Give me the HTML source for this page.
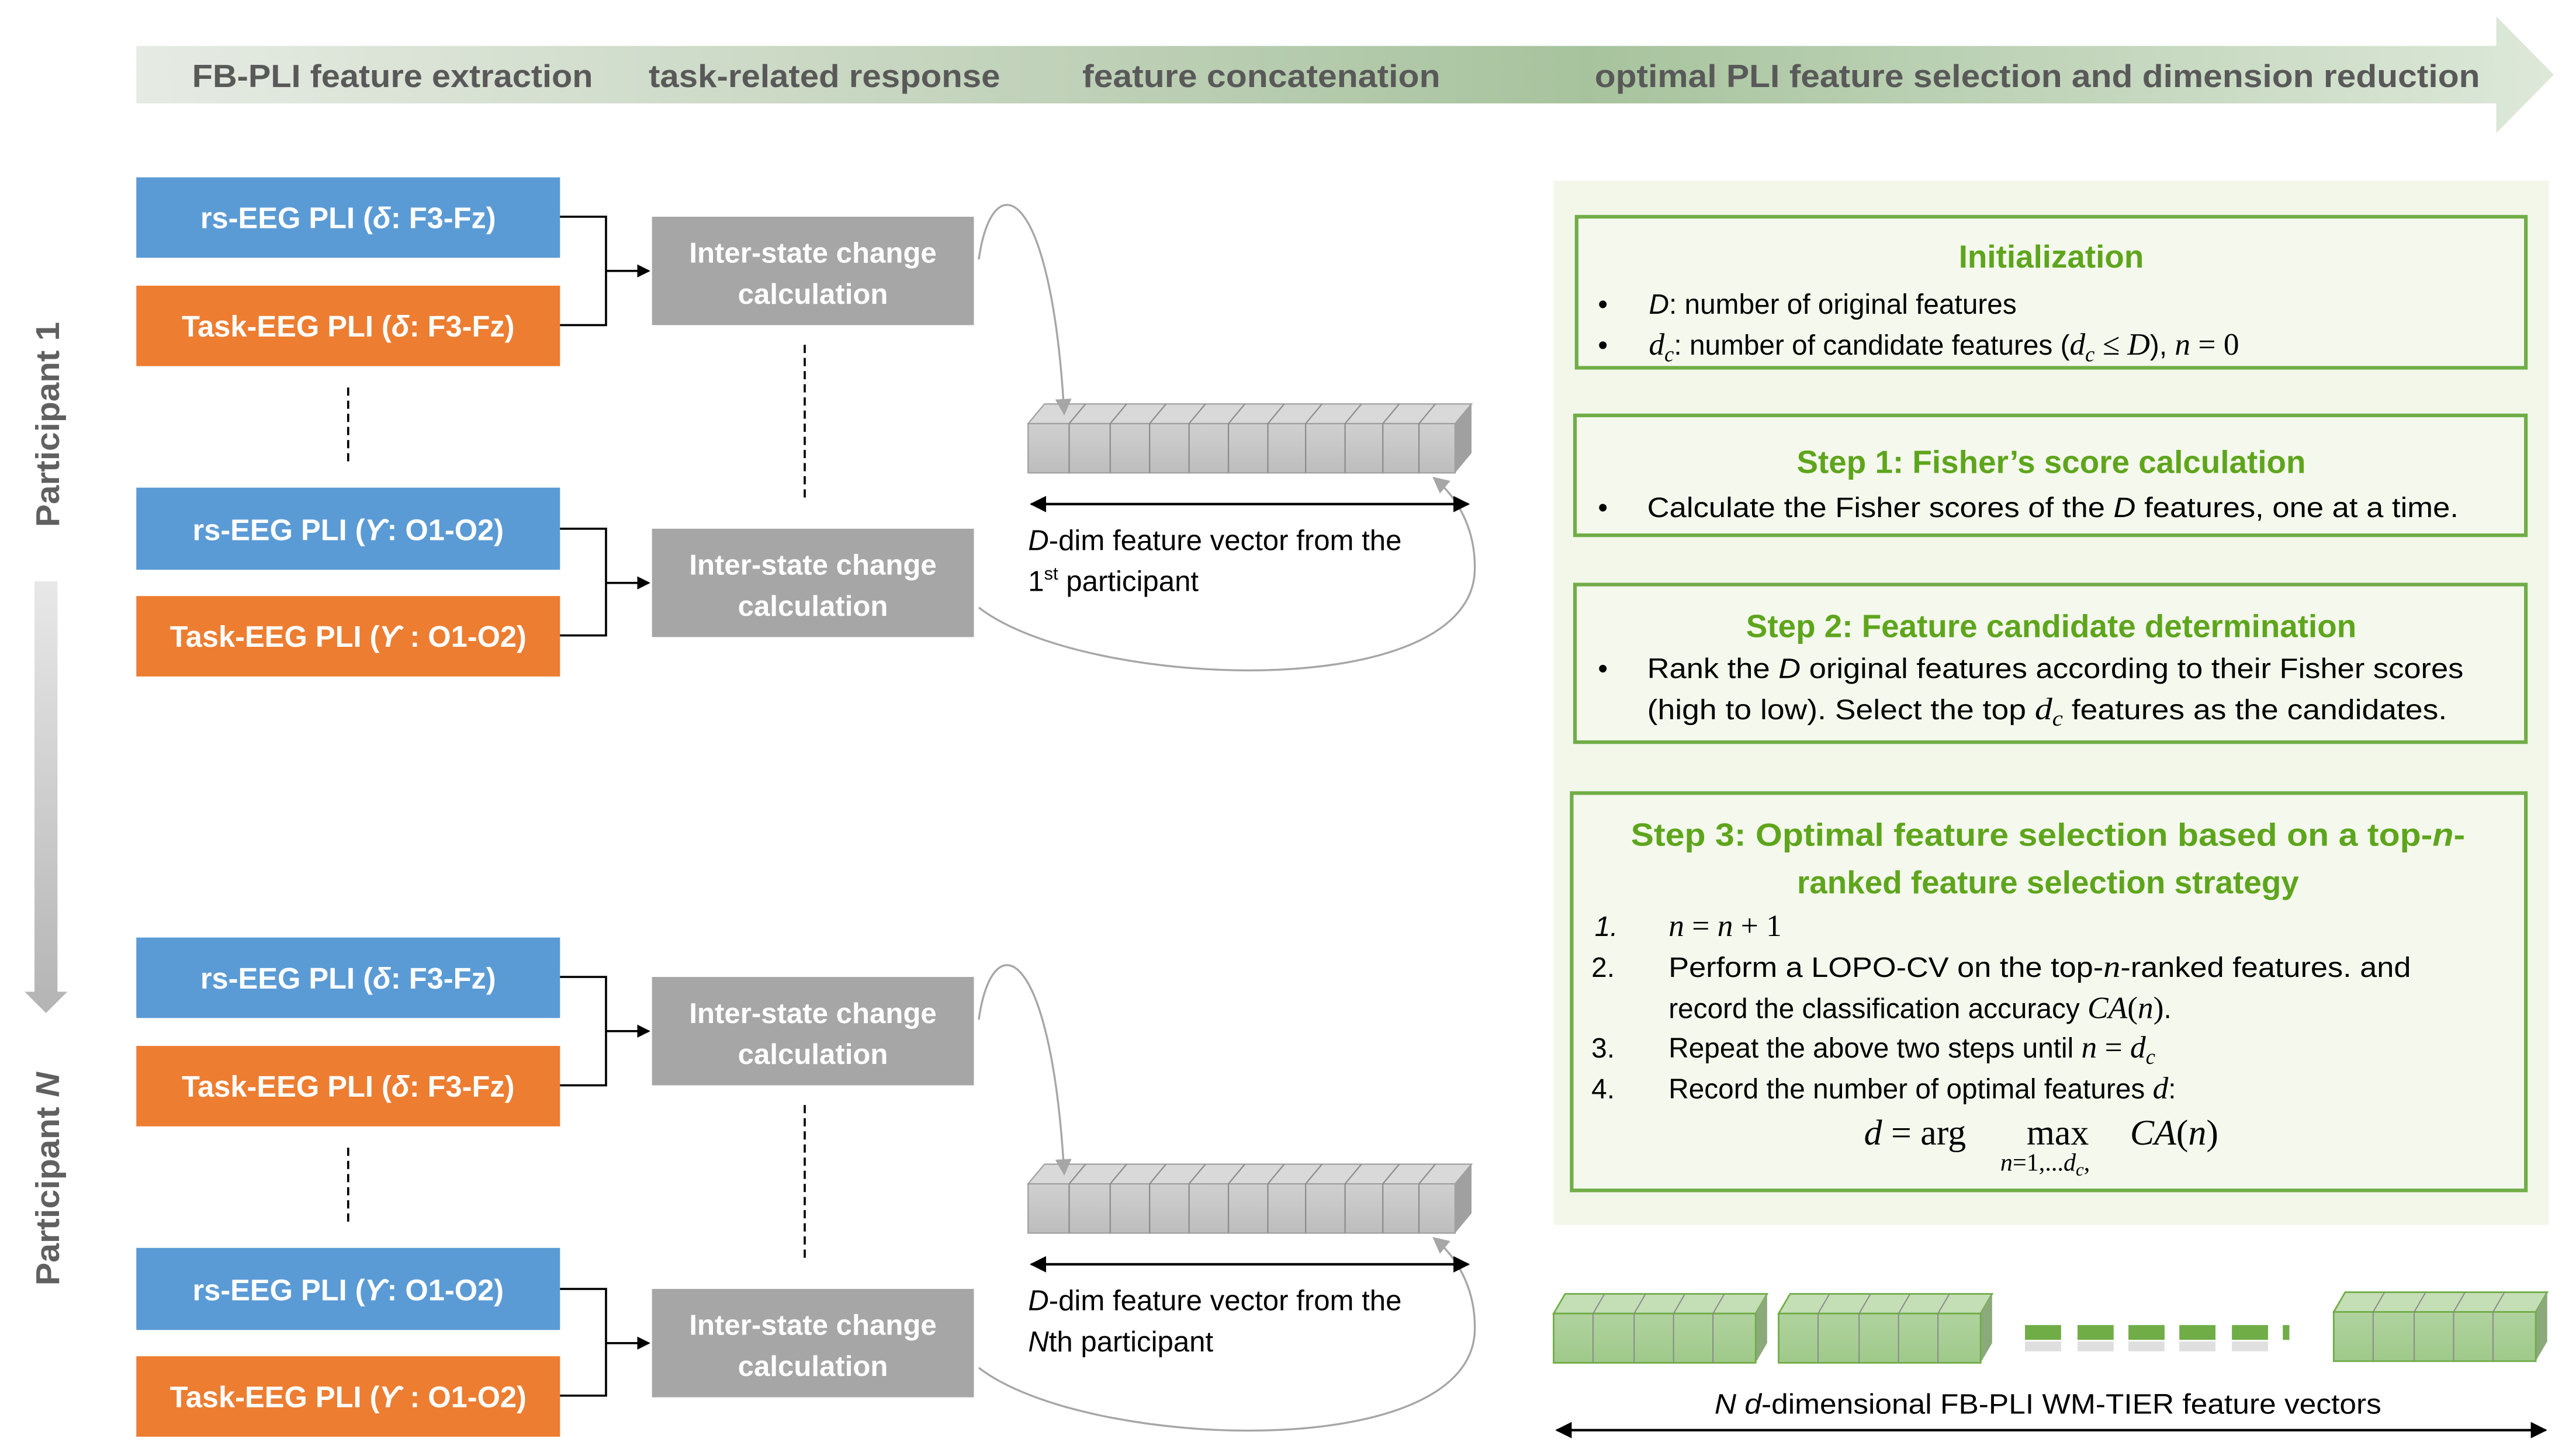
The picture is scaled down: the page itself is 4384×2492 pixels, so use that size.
<!DOCTYPE html>
<html><head><meta charset="utf-8"><style>
html,body{margin:0;padding:0;background:#fff;}
svg{display:block;}
.ser{font-family:"Liberation Serif",serif;font-style:italic;}
.rom{font-family:"Liberation Serif",serif;}
</style></head><body>
<svg width="4384" height="2492" viewBox="0 0 1560 886.75" preserveAspectRatio="none" xmlns="http://www.w3.org/2000/svg" font-family="Liberation Sans, sans-serif">
<defs>
<linearGradient id="hdr" x1="0" x2="1" y1="0" y2="0">
<stop offset="0" stop-color="#e6ebe3"/>
<stop offset="0.45" stop-color="#b9cdb1"/>
<stop offset="0.6" stop-color="#a7c39d"/>
<stop offset="1" stop-color="#dde8d9"/>
</linearGradient>
<linearGradient id="varr" x1="0" x2="0" y1="0" y2="1">
<stop offset="0" stop-color="#e8e8e8"/><stop offset="1" stop-color="#b4b4b4"/>
</linearGradient>
<linearGradient id="cell" x1="0" x2="0" y1="0" y2="1">
<stop offset="0" stop-color="#d0d0d0"/><stop offset="1" stop-color="#bdbdbd"/>
</linearGradient>
<linearGradient id="gcell" x1="0" x2="0" y1="0" y2="1">
<stop offset="0" stop-color="#b0d39e"/><stop offset="1" stop-color="#9fc98a"/>
</linearGradient>
<marker id="ab" markerWidth="8" markerHeight="8" refX="7" refY="4" orient="auto" markerUnits="userSpaceOnUse"><path d="M0,0 L8,4 L0,8 z" fill="#000"/></marker>
<marker id="ag" markerWidth="10" markerHeight="10" refX="9" refY="5" orient="auto" markerUnits="userSpaceOnUse"><path d="M0,0 L10,5 L0,10 z" fill="#a6a6a6"/></marker>
<marker id="dA" markerWidth="10" markerHeight="10" refX="9" refY="5" orient="auto-start-reverse" markerUnits="userSpaceOnUse"><path d="M0,0 L10,5 L0,10 z" fill="#000"/></marker>
</defs>

<path d="M83,28 H1520 V10 L1555,45.5 L1520,81 V63 H83 z" fill="url(#hdr)"/>
<g font-weight="bold" font-size="19.5" fill="#595959">
<text x="117" y="53" textLength="244" lengthAdjust="spacingAndGlyphs">FB-PLI feature extraction</text>
<text x="395" y="53" textLength="214" lengthAdjust="spacingAndGlyphs">task-related response</text>
<text x="659" y="53" textLength="218" lengthAdjust="spacingAndGlyphs">feature concatenation</text>
<text x="971" y="53" textLength="539" lengthAdjust="spacingAndGlyphs">optimal PLI feature selection and dimension reduction</text>
</g>

<text transform="translate(36,321) rotate(-90)" font-size="20" font-weight="bold" fill="#606060" textLength="125" lengthAdjust="spacingAndGlyphs">Participant 1</text>
<text transform="translate(36,783) rotate(-90)" font-size="20" font-weight="bold" fill="#606060" textLength="130" lengthAdjust="spacingAndGlyphs">Participant <tspan font-style="italic">N</tspan></text>
<path d="M21,354 H35 V604 H41 L28,617 L15,604 H21 z" fill="url(#varr)"/>

<g id="blocks">
<g font-size="18" font-weight="bold" fill="#fff" text-anchor="middle">
<rect x="83" y="108" width="258" height="49" fill="#5b9bd5"/>
<text x="212" y="139">rs-EEG PLI (<tspan font-style="italic">δ</tspan>: F3-Fz)</text>
<rect x="83" y="174" width="258" height="49" fill="#ed7d31"/>
<text x="212" y="205">Task-EEG PLI (<tspan font-style="italic">δ</tspan>: F3-Fz)</text>
<rect x="83" y="297" width="258" height="50" fill="#5b9bd5"/>
<text x="212" y="329">rs-EEG PLI (<tspan font-style="italic">ϒ</tspan>: O1-O2)</text>
<rect x="83" y="363" width="258" height="49" fill="#ed7d31"/>
<text x="212" y="394">Task-EEG PLI (<tspan font-style="italic">ϒ</tspan> : O1-O2)</text>
</g>
<g fill="none" stroke="#000" stroke-width="1.3">
<path d="M341,132 H369 V198 H341"/><path d="M369,165 H395" marker-end="url(#ab)"/>
<path d="M341,322 H369 V387 H341"/><path d="M369,355 H395" marker-end="url(#ab)"/>
<path d="M212,236 V284" stroke-dasharray="5,3"/>
<path d="M490,210 V306" stroke-dasharray="5,3"/>
</g>
<g font-size="17.5" font-weight="bold" fill="#fff" text-anchor="middle">
<rect x="397" y="132" width="196" height="66" fill="#a6a6a6"/>
<text x="495" y="160">Inter-state change</text><text x="495" y="185">calculation</text>
<rect x="397" y="322" width="196" height="66" fill="#a6a6a6"/>
<text x="495" y="350">Inter-state change</text><text x="495" y="375">calculation</text>
</g>
<path d="M626,258 L636,246 H896 L886,258 z" fill="#d9d9d9" stroke="#a0a0a0" stroke-width="0.8"/>
<path d="M886,258 L896,246 V276 L886,288 z" fill="#a0a0a0"/>
<rect x="626" y="258" width="260" height="30" fill="url(#cell)" stroke="#a0a0a0" stroke-width="0.8"/>
<g stroke="#8c8c8c" stroke-width="0.8">
<path d="M651,258 V288 M651,258 L661,246"/><path d="M676,258 V288 M676,258 L686,246"/>
<path d="M700,258 V288 M700,258 L710,246"/><path d="M724,258 V288 M724,258 L734,246"/>
<path d="M748,258 V288 M748,258 L758,246"/><path d="M772,258 V288 M772,258 L782,246"/>
<path d="M795,258 V288 M795,258 L805,246"/><path d="M819,258 V288 M819,258 L829,246"/>
<path d="M842,258 V288 M842,258 L852,246"/><path d="M864,258 V288 M864,258 L874,246"/>
</g>
<path d="M596,158 C604,100 640,110 648,252" fill="none" stroke="#a6a6a6" stroke-width="1.2" marker-end="url(#ag)"/>
<path d="M596,370 C660,420 900,430 898,345 C898,325 890,305 873,291" fill="none" stroke="#a6a6a6" stroke-width="1.2" marker-end="url(#ag)"/>
<path d="M628,307 H894" stroke="#000" stroke-width="1.5" marker-start="url(#dA)" marker-end="url(#dA)"/>
</g>
<g font-size="17.5" fill="#000">
<text x="626" y="335"><tspan font-style="italic">D</tspan>-dim feature vector from the</text>
<text x="626" y="360">1<tspan font-size="11" dy="-7">st</tspan><tspan dy="7"> participant</tspan></text>
</g>

<use href="#blocks" transform="translate(0,463)"/>
<g font-size="17.5" fill="#000">
<text x="626" y="798"><tspan font-style="italic">D</tspan>-dim feature vector from the</text>
<text x="626" y="823"><tspan font-style="italic">N</tspan>th participant</text>
</g>

<rect x="946" y="110" width="606" height="636" fill="#f2f7ea"/>
<g fill="#f4f8ed" stroke="#70ad47" stroke-width="2.2">
<rect x="960" y="132" width="578" height="92"/>
<rect x="959" y="253" width="579" height="73"/>
<rect x="959" y="356" width="579" height="96"/>
<rect x="957" y="483" width="581" height="242"/>
</g>
<g font-size="19.5" font-weight="bold" fill="#5ea51c" text-anchor="middle">
<text x="1249" y="163">Initialization</text>
<text x="1249" y="288">Step 1: Fisher’s score calculation</text>
<text x="1249" y="388">Step 2: Feature candidate determination</text>
<text x="1247" y="515" textLength="508" lengthAdjust="spacingAndGlyphs">Step 3: Optimal feature selection based on a top-<tspan font-style="italic">n</tspan>-</text>
<text x="1247" y="544">ranked feature selection strategy</text>
</g>
<g font-size="17" fill="#000">
<text x="973" y="191">•</text>
<text x="1004" y="191"><tspan font-style="italic">D</tspan>: number of original features</text>
<text x="973" y="216">•</text>
<text x="1004" y="216"><tspan class="ser" font-size="19">d<tspan font-size="13" dy="4">c</tspan></tspan><tspan dy="-4">: number of candidate features (</tspan><tspan class="ser" font-size="19">d<tspan font-size="13" dy="4">c</tspan></tspan><tspan dy="-4" class="ser" font-size="19"> ≤ D</tspan>), <tspan class="ser" font-size="19">n</tspan><tspan class="rom" font-size="19"> = 0</tspan></text>
<text x="973" y="315">•</text>
<text x="1003" y="315" textLength="494" lengthAdjust="spacingAndGlyphs">Calculate the Fisher scores of the <tspan font-style="italic">D</tspan> features, one at a time.</text>
<text x="973" y="413">•</text>
<text x="1003" y="413" textLength="497" lengthAdjust="spacingAndGlyphs">Rank the <tspan font-style="italic">D</tspan> original features according to their Fisher scores</text>
<text x="1003" y="438" textLength="487" lengthAdjust="spacingAndGlyphs">(high to low). Select the top <tspan class="ser" font-size="19">d<tspan font-size="13" dy="4">c</tspan></tspan><tspan dy="-4"> features as the candidates.</tspan></text>
<text x="971" y="570" font-style="italic">1.</text>
<text x="1016" y="570" class="ser" font-size="19">n <tspan font-style="normal">= </tspan>n<tspan font-style="normal"> + 1</tspan></text>
<text x="969" y="595">2.</text>
<text x="1016" y="595" textLength="452" lengthAdjust="spacingAndGlyphs">Perform a LOPO-CV on the top-<tspan class="ser" font-size="19">n</tspan>-ranked features. and</text>
<text x="1016" y="620">record the classification accuracy <tspan class="ser" font-size="19">CA</tspan><tspan class="rom" font-size="19">(</tspan><tspan class="ser" font-size="19">n</tspan><tspan class="rom" font-size="19">)</tspan>.</text>
<text x="969" y="644">3.</text>
<text x="1016" y="644">Repeat the above two steps until <tspan class="ser" font-size="19">n</tspan><tspan class="rom" font-size="19"> = </tspan><tspan class="ser" font-size="19">d<tspan font-size="13" dy="4">c</tspan></tspan></text>
<text x="969" y="669">4.</text>
<text x="1016" y="669">Record the number of optimal features <tspan class="ser" font-size="19">d</tspan>:</text>
<text x="1135" y="697" class="rom" font-size="22"><tspan font-style="italic">d</tspan> = arg</text>
<text x="1234" y="697" class="rom" font-size="22">max</text>
<text x="1297" y="697" class="ser" font-size="22">CA<tspan font-style="normal">(</tspan>n<tspan font-style="normal">)</tspan></text>
<text x="1218" y="713" class="rom" font-size="15"><tspan font-style="italic">n</tspan>=1,...<tspan font-style="italic">d<tspan font-size="11" dy="3">c</tspan></tspan><tspan dy="-3">,</tspan></text>
</g>

<g id="gv">
<path d="M946,800 L953,788 H1076 L1069,800 z" fill="#c4deb6" stroke="#70ad47" stroke-width="1"/>
<path d="M1069,800 L1076,788 V818 L1069,830 z" fill="#8ca97c"/>
<rect x="946" y="800" width="123" height="30" fill="url(#gcell)" stroke="#70ad47" stroke-width="1"/>
<g stroke="#8a8a8a" stroke-width="0.7">
<path d="M970,800 V830 M970,800 L977,788"/><path d="M995,800 V830 M995,800 L1002,788"/>
<path d="M1019,800 V830 M1019,800 L1026,788"/><path d="M1043,800 V830 M1043,800 L1050,788"/>
</g>
</g>
<use href="#gv" transform="translate(137,0)"/>
<use href="#gv" transform="translate(475,-1)"/>
<g fill="#70ad47">
<rect x="1233" y="807" width="22" height="9"/><rect x="1265" y="807" width="22" height="9"/>
<rect x="1296" y="807" width="22" height="9"/><rect x="1327" y="807" width="22" height="9"/>
<rect x="1359" y="807" width="22" height="9"/><rect x="1390" y="807" width="4" height="9"/>
</g>
<g fill="#000" opacity="0.12">
<rect x="1233" y="817" width="22" height="6"/><rect x="1265" y="817" width="22" height="6"/>
<rect x="1296" y="817" width="22" height="6"/><rect x="1327" y="817" width="22" height="6"/>
<rect x="1359" y="817" width="22" height="6"/>
</g>
<text x="1247" y="861" font-size="17" text-anchor="middle" textLength="406" lengthAdjust="spacingAndGlyphs"><tspan font-style="italic">N d</tspan>-dimensional FB-PLI WM-TIER feature vectors</text>
<path d="M948,871 H1550" stroke="#000" stroke-width="1.5" marker-start="url(#dA)" marker-end="url(#dA)"/>
</svg>
</body></html>
